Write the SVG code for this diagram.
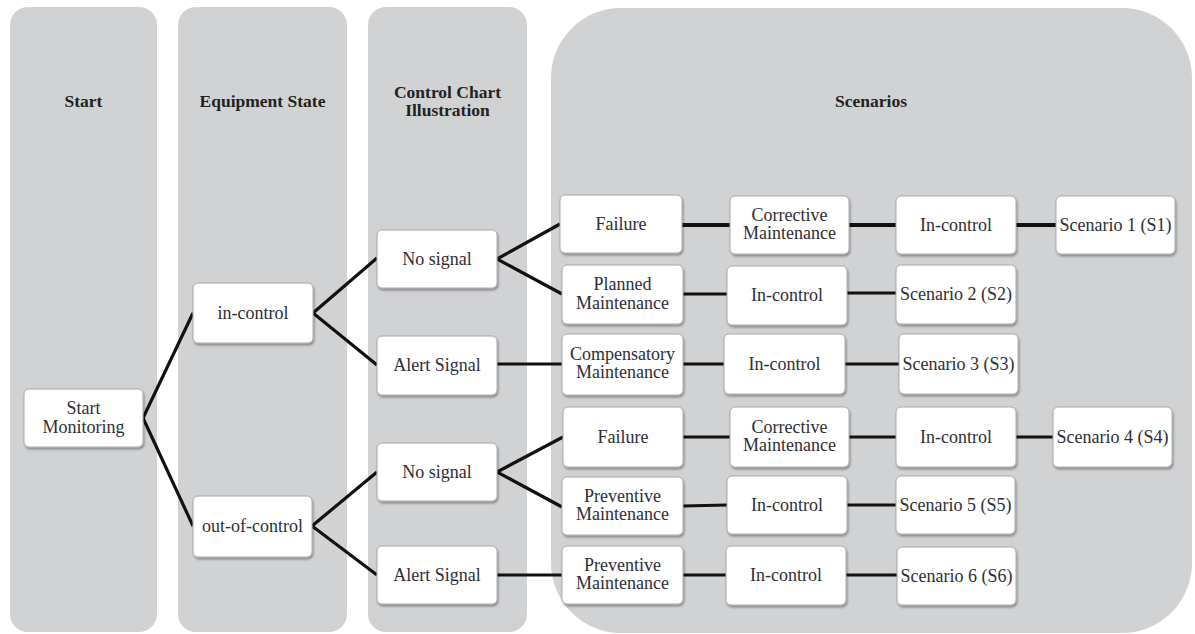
<svg xmlns="http://www.w3.org/2000/svg" width="1195" height="634" viewBox="0 0 1195 634">
  <defs>
    <filter id="sh" x="-10%" y="-10%" width="125%" height="130%">
      <feDropShadow dx="1" dy="2" stdDeviation="1.2" flood-color="#000" flood-opacity="0.35"/>
    </filter>
    <style>
      .lane { fill: #d1d2d4; }
      .hdr { font-family: "Liberation Serif", "Times New Roman", serif; font-weight: bold; font-size: 17.5px; fill: #222; text-anchor: middle; }
      .box { fill: #ffffff; stroke: #a9aaac; stroke-width: 1; filter: url(#sh); }
      .lbl { font-family: "Liberation Serif", "Times New Roman", serif; font-size: 18px; fill: #2e2e34; text-anchor: middle; }
      .c { stroke: #111; stroke-width: 3.2; fill: none; stroke-linecap: butt; }
      .ct { stroke: #111; stroke-width: 4; fill: none; }
    </style>
  </defs>
  <rect width="1195" height="634" fill="#ffffff"/>

  <g id="lanes">
    <rect class="lane" x="10" y="7" width="147" height="625" rx="18"/>
    <rect class="lane" x="178" y="7" width="169" height="625" rx="18"/>
    <rect class="lane" x="368" y="7" width="159" height="625" rx="18"/>
    <rect class="lane" x="551" y="8" width="641" height="625" rx="70"/>
    <text class="hdr" x="83.5" y="107">Start</text>
    <text class="hdr" x="262.5" y="107">Equipment State</text>
    <text class="hdr" x="447.5" y="98">Control Chart</text>
    <text class="hdr" x="447.5" y="116">Illustration</text>
    <text class="hdr" x="871" y="107">Scenarios</text>
  </g>

  <g id="connectors">
    <polyline class="c" points="193,313 143,418 193,526"/>
    <polyline class="c" points="377,258 313,313 377,365"/>
    <polyline class="c" points="377,472 312,526 377,575"/>
    <polyline class="c" points="560,224 497,259 562,294"/>
    <polyline class="c" points="563,437 497,472 562,507"/>
    <line class="ct" x1="682" y1="225" x2="730" y2="225"/>
    <line class="ct" x1="849" y1="225" x2="896" y2="225"/>
    <line class="ct" x1="1016" y1="225" x2="1056" y2="225"/>
    <line class="c" x1="683" y1="294" x2="727" y2="294"/>
    <line class="c" x1="847" y1="293" x2="896" y2="293"/>
    <line class="c" x1="497" y1="364" x2="562" y2="364"/>
    <line class="c" x1="683" y1="364" x2="724" y2="364"/>
    <line class="c" x1="845" y1="364" x2="899" y2="364"/>
    <line class="c" x1="683" y1="437" x2="730" y2="437"/>
    <line class="c" x1="849" y1="437" x2="896" y2="437"/>
    <line class="c" x1="1016" y1="437" x2="1053" y2="437"/>
    <line class="c" x1="683" y1="506" x2="727" y2="505"/>
    <line class="c" x1="847" y1="505" x2="896" y2="505"/>
    <line class="c" x1="497" y1="575" x2="562" y2="575"/>
    <line class="c" x1="683" y1="575" x2="726" y2="575"/>
    <line class="c" x1="846" y1="575" x2="897" y2="575"/>
  </g>

  <g id="n-start"><rect class="box" x="24" y="389" width="119" height="58" rx="5"/>
    <text class="lbl" x="83.5" y="414">Start</text><text class="lbl" x="83.5" y="433">Monitoring</text></g>
  <g id="n-incontrol"><rect class="box" x="193" y="283" width="120" height="60" rx="5"/>
    <text class="lbl" x="253" y="319">in-control</text></g>
  <g id="n-outcontrol"><rect class="box" x="193" y="496" width="119" height="61" rx="5"/>
    <text class="lbl" x="252.5" y="532">out-of-control</text></g>

  <g id="n-nosignal1"><rect class="box" x="377" y="230" width="120" height="58" rx="5"/>
    <text class="lbl" x="437" y="265">No signal</text></g>
  <g id="n-alert1"><rect class="box" x="377" y="336" width="120" height="59" rx="5"/>
    <text class="lbl" x="437" y="371">Alert Signal</text></g>
  <g id="n-nosignal2"><rect class="box" x="377" y="443" width="120" height="58" rx="5"/>
    <text class="lbl" x="437" y="478">No signal</text></g>
  <g id="n-alert2"><rect class="box" x="377" y="546" width="120" height="58" rx="5"/>
    <text class="lbl" x="437" y="581">Alert Signal</text></g>

  <g id="n-failure1"><rect class="box" x="560" y="195" width="122" height="58" rx="5"/>
    <text class="lbl" x="621" y="230">Failure</text></g>
  <g id="n-planned"><rect class="box" x="562" y="265" width="121" height="59" rx="5"/>
    <text class="lbl" x="622.5" y="290">Planned</text><text class="lbl" x="622.5" y="309">Maintenance</text></g>
  <g id="n-compensatory"><rect class="box" x="562" y="334" width="121" height="61" rx="5"/>
    <text class="lbl" x="622.5" y="360">Compensatory</text><text class="lbl" x="622.5" y="378">Maintenance</text></g>
  <g id="n-failure2"><rect class="box" x="563" y="407" width="120" height="60" rx="5"/>
    <text class="lbl" x="623" y="443">Failure</text></g>
  <g id="n-preventive1"><rect class="box" x="562" y="477" width="121" height="58" rx="5"/>
    <text class="lbl" x="622.5" y="502">Preventive</text><text class="lbl" x="622.5" y="520">Maintenance</text></g>
  <g id="n-preventive2"><rect class="box" x="562" y="546" width="121" height="58" rx="5"/>
    <text class="lbl" x="622.5" y="571">Preventive</text><text class="lbl" x="622.5" y="589">Maintenance</text></g>

  <g id="n-corrective1"><rect class="box" x="730" y="196" width="119" height="58" rx="5"/>
    <text class="lbl" x="789.5" y="221">Corrective</text><text class="lbl" x="789.5" y="239">Maintenance</text></g>
  <g id="n-ic2"><rect class="box" x="727" y="266" width="120" height="59" rx="5"/>
    <text class="lbl" x="787" y="301">In-control</text></g>
  <g id="n-ic3"><rect class="box" x="724" y="334" width="121" height="60" rx="5"/>
    <text class="lbl" x="784.5" y="370">In-control</text></g>
  <g id="n-corrective2"><rect class="box" x="730" y="407" width="119" height="60" rx="5"/>
    <text class="lbl" x="789.5" y="433">Corrective</text><text class="lbl" x="789.5" y="451">Maintenance</text></g>
  <g id="n-ic5"><rect class="box" x="727" y="476" width="120" height="58" rx="5"/>
    <text class="lbl" x="787" y="511">In-control</text></g>
  <g id="n-ic6"><rect class="box" x="726" y="546" width="120" height="59" rx="5"/>
    <text class="lbl" x="786" y="581">In-control</text></g>

  <g id="n-ic1"><rect class="box" x="896" y="196" width="120" height="58" rx="5"/>
    <text class="lbl" x="956" y="231">In-control</text></g>
  <g id="n-s2"><rect class="box" x="896" y="265" width="120" height="59" rx="5"/>
    <text class="lbl" x="956" y="300">Scenario 2 (S2)</text></g>
  <g id="n-s3"><rect class="box" x="899" y="334" width="119" height="60" rx="5"/>
    <text class="lbl" x="958.5" y="370">Scenario 3 (S3)</text></g>
  <g id="n-ic4"><rect class="box" x="896" y="407" width="120" height="60" rx="5"/>
    <text class="lbl" x="956" y="443">In-control</text></g>
  <g id="n-s5"><rect class="box" x="896" y="476" width="119" height="58" rx="5"/>
    <text class="lbl" x="955.5" y="511">Scenario 5 (S5)</text></g>
  <g id="n-s6"><rect class="box" x="897" y="547" width="119" height="58" rx="5"/>
    <text class="lbl" x="956.5" y="582">Scenario 6 (S6)</text></g>

  <g id="n-s1"><rect class="box" x="1056" y="196" width="119" height="58" rx="5"/>
    <text class="lbl" x="1115.5" y="231">Scenario 1 (S1)</text></g>
  <g id="n-s4"><rect class="box" x="1053" y="407" width="119" height="60" rx="5"/>
    <text class="lbl" x="1112.5" y="443">Scenario 4 (S4)</text></g>
</svg>
